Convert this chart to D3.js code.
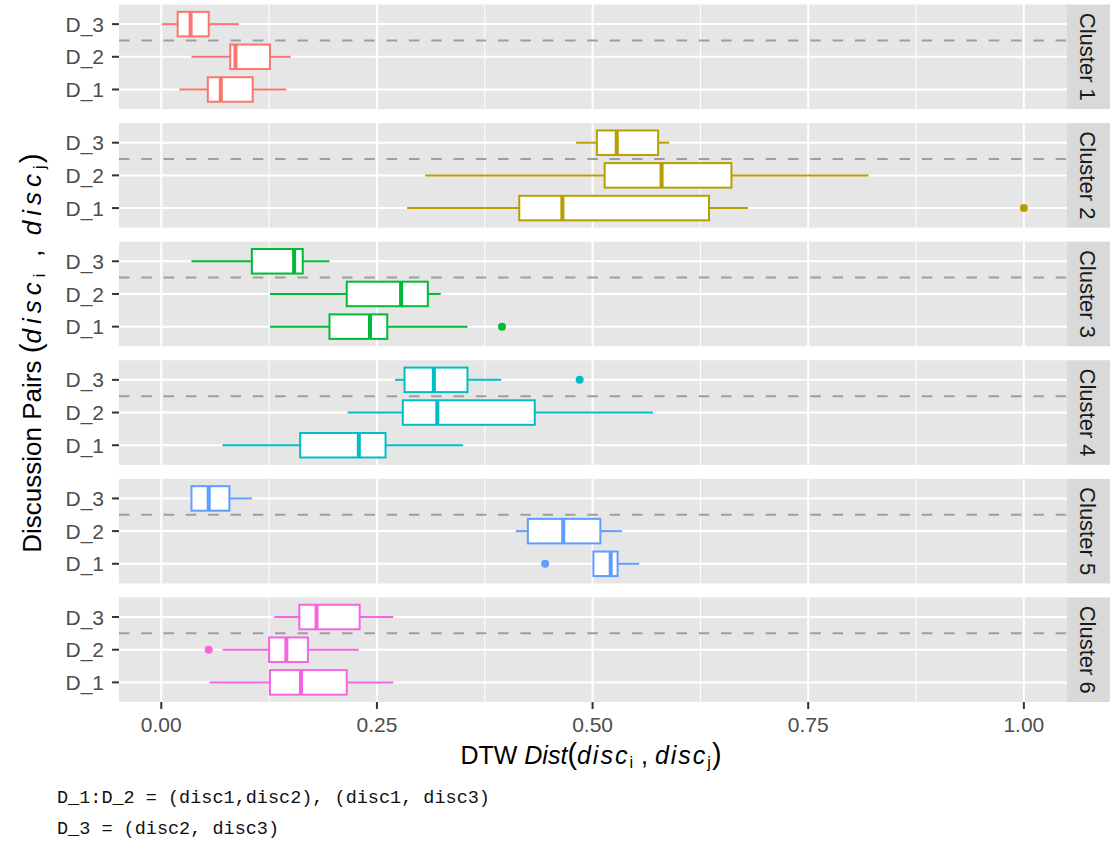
<!DOCTYPE html>
<html>
<head>
<meta charset="utf-8">
<script src="https://cdn.jsdelivr.net/npm/d3@7"></script>
<style>
  html, body { margin: 0; padding: 0; background: #ffffff; }
  svg { display: block; }
</style>
</head>
<body>
<svg id="chart" width="1110" height="841"></svg>
<script>
// Facet panels (one per cluster) and the discussion pairs on the y axis
const clusters = ["Cluster 1", "Cluster 2", "Cluster 3", "Cluster 4", "Cluster 5", "Cluster 6"];
const pairs = ["D_3", "D_2", "D_1"];
const clusterColors = ["#F8766D", "#B79F00", "#00BA38", "#00BFC4", "#619CFF", "#F564E3"];

// Box statistics per pair: [lower whisker, Q1, median, Q3, upper whisker]
const cluster1Boxes = { D_1: [0.021, 0.054, 0.069, 0.106, 0.145], D_2: [0.035, 0.080, 0.086, 0.126, 0.150], D_3: [0.001, 0.019, 0.034, 0.055, 0.090] };
const cluster2Boxes = { D_1: [0.285, 0.415, 0.465, 0.635, 0.680], D_2: [0.306, 0.514, 0.580, 0.661, 0.820], D_3: [0.481, 0.505, 0.528, 0.576, 0.589] };
const cluster3Boxes = { D_1: [0.126, 0.195, 0.242, 0.262, 0.355], D_2: [0.126, 0.215, 0.278, 0.309, 0.324], D_3: [0.035, 0.105, 0.154, 0.164, 0.195] };
const cluster4Boxes = { D_1: [0.071, 0.161, 0.229, 0.260, 0.350], D_2: [0.216, 0.280, 0.320, 0.433, 0.570], D_3: [0.271, 0.282, 0.316, 0.355, 0.394] };
const cluster5Boxes = { D_1: [0.501, 0.501, 0.521, 0.529, 0.554], D_2: [0.411, 0.425, 0.466, 0.509, 0.534], D_3: [0.035, 0.035, 0.055, 0.079, 0.105] };
const cluster6Boxes = { D_1: [0.056, 0.126, 0.162, 0.215, 0.269], D_2: [0.071, 0.125, 0.145, 0.170, 0.229], D_3: [0.131, 0.160, 0.180, 0.230, 0.269] };
const boxesByCluster = [cluster1Boxes, cluster2Boxes, cluster3Boxes, cluster4Boxes, cluster5Boxes, cluster6Boxes];

// Outlying points: [cluster index, pair, value]
const outlierPoints = [
  [1, "D_1", 1.000],
  [2, "D_1", 0.395],
  [3, "D_3", 0.485],
  [4, "D_1", 0.445],
  [5, "D_2", 0.055]
];

const xMajorTicks = [0, 0.25, 0.5, 0.75, 1.0];
const xMinorTicks = [0.125, 0.375, 0.625, 0.875];
const captionLines = ["D_1:D_2 = (disc1,disc2), (disc1, disc3)", "D_3 = (disc2, disc3)"];

const svg = d3.select("#chart");

const panelLeft = 119, panelRight = 1067;
const stripRight = 1110;
const x = d3.scaleLinear().domain([-0.049, 1.05]).range([panelLeft, panelRight]);
const panelBand = d3.scaleBand().domain(clusters).range([4.5, 702]).paddingInner(0.118).paddingOuter(0);

const panelBg = "#E6E6E6";
const tickText = "#4D4D4D";
const sansFont = "'Liberation Sans', Arial, sans-serif";

clusters.forEach((cl, ci) => {
  const top = panelBand(cl);
  const bottom = top + panelBand.bandwidth();
  const y = d3.scalePoint().domain(pairs).range([top, bottom]).padding(0.6);
  const g = svg.append("g");

  // panel background
  g.append("rect").attr("x", panelLeft).attr("y", top)
    .attr("width", panelRight - panelLeft).attr("height", bottom - top)
    .attr("fill", panelBg);

  // minor vertical grid
  g.selectAll("line.minor").data(xMinorTicks).join("line")
    .attr("x1", d => x(d)).attr("x2", d => x(d))
    .attr("y1", top).attr("y2", bottom)
    .attr("stroke", "#fff").attr("stroke-width", 1);
  // major vertical grid
  g.selectAll("line.majorx").data(xMajorTicks).join("line")
    .attr("x1", d => x(d)).attr("x2", d => x(d))
    .attr("y1", top).attr("y2", bottom)
    .attr("stroke", "#fff").attr("stroke-width", 2);
  // major horizontal grid at each pair
  g.selectAll("line.majory").data(pairs).join("line")
    .attr("x1", panelLeft).attr("x2", panelRight)
    .attr("y1", d => y(d)).attr("y2", d => y(d))
    .attr("stroke", "#fff").attr("stroke-width", 2);

  // dashed separator between D_3 and D_2
  const sepY = (y("D_3") + y("D_2")) / 2;
  g.append("line")
    .attr("x1", panelLeft).attr("x2", panelRight)
    .attr("y1", sepY).attr("y2", sepY)
    .attr("stroke", "#9E9E9E").attr("stroke-width", 2)
    .attr("stroke-dasharray", "10.5 11.8");

  // boxplots
  const col = clusterColors[ci];
  const boxH = y.step() * 0.75;
  const stats = boxesByCluster[ci];
  pairs.forEach(p => {
    const [lo, q1, med, q3, hi] = stats[p];
    const cy = y(p);
    g.append("line").attr("x1", x(lo)).attr("x2", x(q1)).attr("y1", cy).attr("y2", cy)
      .attr("stroke", col).attr("stroke-width", 2);
    g.append("line").attr("x1", x(q3)).attr("x2", x(hi)).attr("y1", cy).attr("y2", cy)
      .attr("stroke", col).attr("stroke-width", 2);
    g.append("rect").attr("x", x(q1)).attr("y", cy - boxH / 2)
      .attr("width", x(q3) - x(q1)).attr("height", boxH)
      .attr("fill", "#fff").attr("stroke", col).attr("stroke-width", 2);
    g.append("line").attr("x1", x(med)).attr("x2", x(med))
      .attr("y1", cy - boxH / 2).attr("y2", cy + boxH / 2)
      .attr("stroke", col).attr("stroke-width", 4);
  });

  g.selectAll("circle.out").data(outlierPoints.filter(o => o[0] === ci)).join("circle")
    .attr("cx", d => x(d[2])).attr("cy", d => y(d[1])).attr("r", 4)
    .attr("fill", col);

  // y axis ticks and labels
  g.selectAll("line.ytick").data(pairs).join("line")
    .attr("x1", panelLeft - 7).attr("x2", panelLeft)
    .attr("y1", d => y(d)).attr("y2", d => y(d))
    .attr("stroke", "#333").attr("stroke-width", 2);
  g.selectAll("text.ylab").data(pairs).join("text")
    .attr("x", 104).attr("y", d => y(d))
    .attr("dy", "0.36em").attr("text-anchor", "end")
    .attr("font-family", sansFont).attr("font-size", 21).attr("fill", tickText)
    .text(d => d);

  // facet strip on the right
  g.append("rect").attr("x", panelRight).attr("y", top)
    .attr("width", stripRight - panelRight).attr("height", bottom - top)
    .attr("fill", "#D9D9D9");
  g.append("text")
    .attr("transform", `translate(${(panelRight + stripRight) / 2 - 1},${(top + bottom) / 2}) rotate(90)`)
    .attr("text-anchor", "middle").attr("dy", "0.36em")
    .attr("font-family", sansFont).attr("font-size", 22).attr("fill", "#1A1A1A")
    .text(cl);
});

// x axis ticks and labels under the last panel
const axisTop = panelBand(clusters[clusters.length - 1]) + panelBand.bandwidth();
svg.selectAll("line.xtick").data(xMajorTicks).join("line")
  .attr("x1", d => x(d)).attr("x2", d => x(d))
  .attr("y1", axisTop).attr("y2", axisTop + 7)
  .attr("stroke", "#333").attr("stroke-width", 2);
svg.selectAll("text.xlab").data(xMajorTicks).join("text")
  .attr("x", d => x(d)).attr("y", 732)
  .attr("text-anchor", "middle")
  .attr("font-family", sansFont).attr("font-size", 21).attr("fill", tickText)
  .text(d => d3.format(".2f")(d));

// axis title helper: mixes upright, italic and subscript runs
function mathTitle(sel, parts) {
  parts.forEach(pt => {
    const t = sel.append("tspan").text(pt.t);
    if (pt.it) t.attr("font-style", "italic");
    if (pt.ls) t.attr("letter-spacing", pt.ls);
    if (pt.sub) t.attr("font-size", "0.65em").attr("baseline-shift", "-22%");
    if (pt.big) t.attr("font-size", "1.15em");
  });
}

const xTitle = svg.append("text")
  .attr("x", 591).attr("y", 764).attr("text-anchor", "middle")
  .attr("font-family", sansFont).attr("font-size", 25).attr("fill", "#000")
  .style("white-space", "pre");
mathTitle(xTitle, [
  { t: "DTW " }, { t: "Dist", it: true }, { t: "(", big: true },
  { t: "disc", it: true, ls: 2 }, { t: "i", sub: true, ls: 1 }, { t: " , " },
  { t: "disc", it: true, ls: 2 }, { t: "j", sub: true, ls: 1 }, { t: ")", big: true }
]);

const yTitle = svg.append("text")
  .attr("transform", "translate(41,353) rotate(-90)")
  .attr("text-anchor", "middle")
  .attr("font-family", sansFont).attr("font-size", 26).attr("fill", "#000")
  .style("white-space", "pre");
mathTitle(yTitle, [
  { t: "Discussion Pairs " }, { t: "(", big: true },
  { t: "disc", it: true, ls: 5 }, { t: "i", sub: true, ls: 2 }, { t: "  ,  " },
  { t: "disc", it: true, ls: 5 }, { t: "j", sub: true, ls: 2 }, { t: ")", big: true }
]);

// caption
svg.selectAll("text.caption").data(captionLines).join("text")
  .attr("x", 57).attr("y", (d, i) => 803 + i * 31)
  .attr("font-family", "'Courier New', 'Liberation Mono', monospace")
  .attr("font-size", 18.5).attr("fill", "#111")
  .style("white-space", "pre")
  .text(d => d);
</script>
</body>
</html>
